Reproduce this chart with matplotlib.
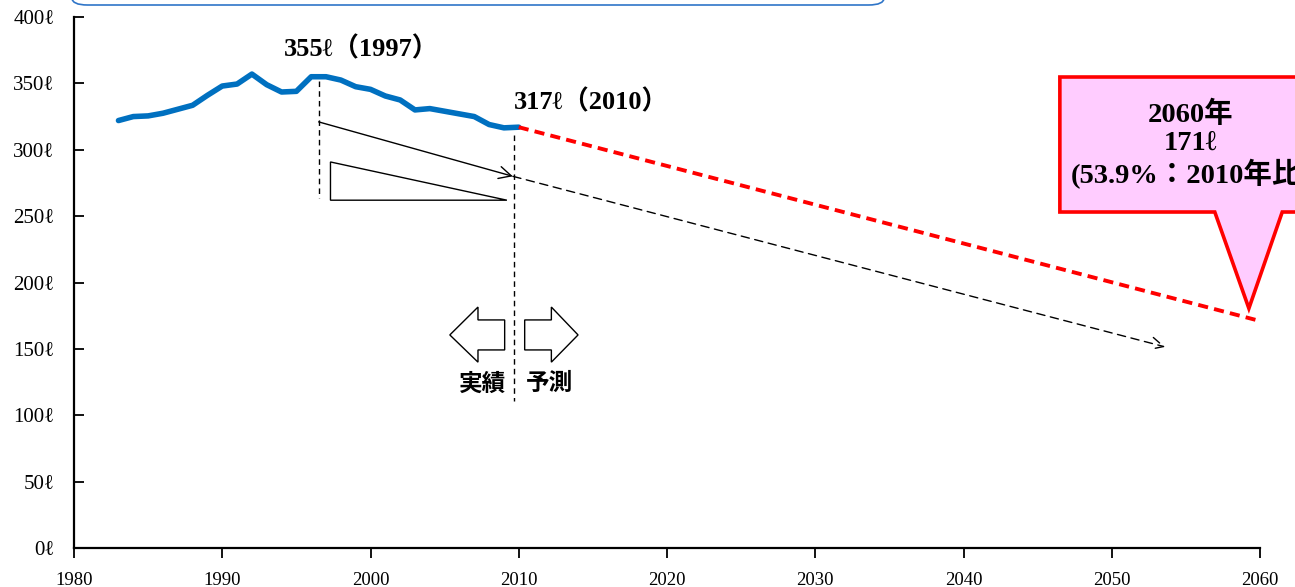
import matplotlib
matplotlib.use("Agg")
import matplotlib.pyplot as plt
from matplotlib.patches import Polygon, FancyBboxPatch

# per-capita daily water use (litres), actual values
years = list(range(1983, 2011))
usage = [322, 325, 325.5, 327.5, 330.5, 333.5, 341, 348, 349.5, 357,
         349, 343.5, 344, 355, 355, 352.5, 347.5, 345.5, 340.5, 337.5,
         330, 331, 329, 327, 325, 319, 316.5, 317]

# projection endpoints
proj_years = [2010, 2060]
proj_usage = [317, 171]

# trend guide lines
trend_years = [1996.5, 2009.6]
trend_vals = [321, 280]
trend_ext_years = [2009.6, 2053.6]
trend_ext_vals = [280, 151.5]

xticks = [1980, 1990, 2000, 2010, 2020, 2030, 2040, 2050, 2060]
yticks = [0, 50, 100, 150, 200, 250, 300, 350, 400]
ytick_labels = [f"{v}ℓ" for v in yticks]

peak_label = "355ℓ（1997）"
last_label = "317ℓ（2010）"
callout_lines = "2060年\n171ℓ\n(53.9%：2010年比)"

SERIF = ["Liberation Serif", "DejaVu Serif", "Noto Sans CJK JP"]
BOLD_TXT = dict(family=SERIF, fontweight="bold", color="black")

fig = plt.figure(figsize=(12.95, 5.87), dpi=100)
ax = fig.add_axes([74 / 1295, 39 / 587, 1186 / 1295, 531 / 587])

ax.plot(years, usage, color="#0070C0", lw=4.0, solid_capstyle="round",
        solid_joinstyle="round", zorder=4)
ax.plot(proj_years, proj_usage, color="#FF0000", lw=2.8,
        dashes=(2.6, 1.6), zorder=4)

# vertical markers
ax.plot([1996.5, 1996.5], [352, 264], color="black", lw=1, dashes=(4, 3))
ax.plot([2009.7, 2009.7], [311, 111], color="black", lw=1, dashes=(4, 3))

# decline arrows
ax.annotate("", xy=(trend_years[1], trend_vals[1]),
            xytext=(trend_years[0], trend_vals[0]),
            arrowprops=dict(arrowstyle="->", color="black", lw=1,
                            mutation_scale=22, shrinkA=0, shrinkB=0))
ax.annotate("", xy=(trend_ext_years[1], trend_ext_vals[1]),
            xytext=(trend_ext_years[0], trend_ext_vals[0]),
            arrowprops=dict(arrowstyle="->", color="black", lw=1,
                            linestyle=(0, (6, 4)), mutation_scale=22,
                            shrinkA=0, shrinkB=0))

# slope triangle
ax.add_patch(Polygon([(1997.3, 290.8), (1997.3, 262), (2009.2, 262)],
                     closed=True, fill=False, edgecolor="black", lw=1))

# block arrows for actual / forecast
left_arrow = [(2005.35, 160.5), (2007.25, 181.5), (2007.25, 171.8),
              (2009.05, 171.8), (2009.05, 149.2), (2007.25, 149.2),
              (2007.25, 140.0)]
right_arrow = [(2014.0, 160.5), (2012.2, 181.5), (2012.2, 171.8),
               (2010.4, 171.8), (2010.4, 149.2), (2012.2, 149.2),
               (2012.2, 140.0)]
for pts in (left_arrow, right_arrow):
    ax.add_patch(Polygon(pts, closed=True, facecolor="white",
                         edgecolor="black", lw=1, zorder=3))

ax.text(2007.55, 124, "実績", ha="center", va="center",
        family=["Noto Sans CJK JP"], fontweight="bold", fontsize=17)
ax.text(2012.05, 124, "予測", ha="center", va="center",
        family=["Noto Sans CJK JP"], fontweight="bold", fontsize=17)

ax.text(1999.4, 376, peak_label, ha="center", va="center", fontsize=19,
        **BOLD_TXT)
ax.text(2014.9, 336, last_label, ha="center", va="center", fontsize=19,
        **BOLD_TXT)

# speech-bubble callout for 2060
bubble = [(2046.5, 354.8), (2066, 354.8), (2066, 253.1), (2061.5, 253.1),
          (2059.25, 180.5), (2056.95, 253.1), (2046.5, 253.1)]
ax.add_patch(Polygon(bubble, closed=True, facecolor="#FFCCFF",
                     edgecolor="#FF0000", lw=2.6, clip_on=False, zorder=5))
ax.text(2055.3, 303.5, callout_lines, ha="center", va="center",
        linespacing=1.15, zorder=6, clip_on=False, fontsize=20.5, **BOLD_TXT)

ax.set_xlim(1980, 2060)
ax.set_ylim(0, 400)
ax.set_xticks(xticks)
ax.set_xticklabels([str(x) for x in xticks], family=SERIF, fontsize=13.5)
ax.set_yticks(yticks)
ax.set_yticklabels(ytick_labels, family=SERIF, fontsize=15)
ax.tick_params(axis="x", direction="out", length=7, width=1.3, pad=10)
ax.tick_params(axis="y", direction="in", length=7, width=1.3, pad=14)

for side in ("top", "right"):
    ax.spines[side].set_visible(False)
for side in ("left", "bottom"):
    ax.spines[side].set_linewidth(1.6)

# title frame peeking in at the top edge
fig.patches.append(FancyBboxPatch(
    (72 / 1295, 582 / 587), 812 / 1295, 40 / 587,
    boxstyle="round,pad=0,rounding_size=0.012", transform=fig.transFigure,
    facecolor="white", edgecolor="#2F75C8", lw=1.2))

fig.savefig("out.png", dpi=100)
